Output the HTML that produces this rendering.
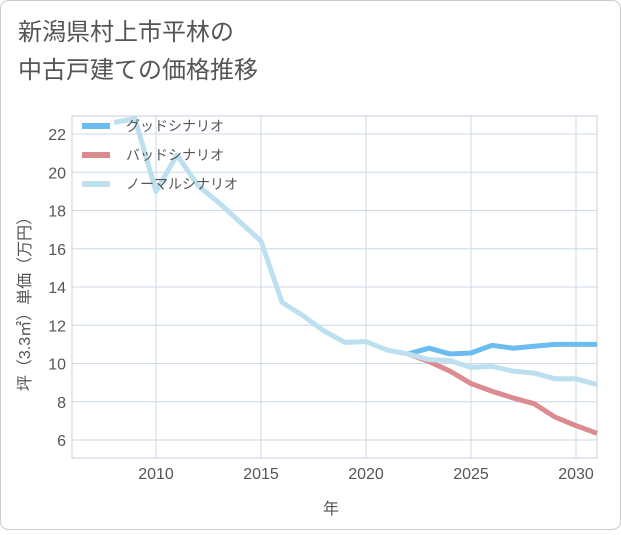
<!DOCTYPE html>
<html><head><meta charset="utf-8"><style>
body{margin:0;background:#fff;}
svg text{font-family:"Liberation Sans","Noto Sans CJK JP",sans-serif;}
</style></head><body>
<svg width="621" height="530" viewBox="0 0 621 530">
<rect x="0.5" y="0.5" width="620" height="529" rx="8" fill="#fff" stroke="#ccc"/>
<text x="18" y="40" font-size="24" fill="#555">新潟県村上市平林の</text>
<text x="18" y="78" font-size="24" fill="#555">中古戸建ての価格推移</text>
<g id="grid"></g>
<g id="series"></g>
<g id="legend"></g>
<text x="331" y="514" font-size="16" fill="#555" text-anchor="middle">年</text>
<text transform="translate(30,300) rotate(-90)" font-size="16" fill="#555" text-anchor="middle">坪（3.3㎡）単価（万円）</text>
</svg>
<script>
const xTicks=[2010,2015,2020,2025,2030];
const yTicks=[6,8,10,12,14,16,18,20,22];
const normalYears=[2008,2009,2010,2011,2012,2013,2014,2015,2016,2017,2018,2019,2020,2021,2022,2023,2024,2025,2026,2027,2028,2029,2030,2031];
const normalVals=[22.6,22.8,19.0,20.9,19.3,18.4,17.4,16.4,13.2,12.5,11.7,11.1,11.15,10.7,10.5,10.2,10.15,9.8,9.85,9.6,9.5,9.2,9.2,8.9];
const futureYears=[2022,2023,2024,2025,2026,2027,2028,2029,2030,2031];
const goodVals=[10.5,10.8,10.5,10.55,10.95,10.8,10.9,11.0,11.0,11.0];
const badVals=[10.5,10.1,9.6,8.95,8.55,8.2,7.9,7.2,6.75,6.35];
const X0=72,X1=597,Y0=116,Y1=458;
const xs=y=>X0+(y-2006)*(X1-X0)/25;
const ys=v=>440-(v-6)*(440-134)/16;
const NS="http://www.w3.org/2000/svg";
function mk(tag,attrs,parent){const e=document.createElementNS(NS,tag);for(const k in attrs)e.setAttribute(k,attrs[k]);parent.appendChild(e);return e;}
const g=document.getElementById('grid');
const r=mk('rect',{x:X0,y:Y0,width:X1-X0,height:Y1-Y0,fill:'none',stroke:'#ccd'},g);


xTicks.forEach(t=>{
 const l=mk('line',{x1:xs(t),x2:xs(t),y1:Y0,y2:Y1,stroke:'#ccd8e4'},g);
 
 
 const tx=mk('text',{x:xs(t),y:479,'font-size':16,fill:'#555','text-anchor':'middle'},g);tx.textContent=t;
 
 
});
yTicks.forEach(t=>{
 const l=mk('line',{x1:X0,x2:X1,y1:ys(t),y2:ys(t),stroke:'#ccd8e4'},g);
 
 
 const tx=mk('text',{x:66,y:ys(t)+6,'font-size':16,fill:'#555','text-anchor':'end'},g);tx.textContent=t;
 
 
});
const s=document.getElementById('series');
function line(years,vals,color,name){
 const p=mk('polyline',{points:years.map((y,i)=>xs(y)+','+ys(vals[i])).join(' '),fill:'none',stroke:color,'stroke-width':5,'stroke-linejoin':'round'},s);
 
 
}
line(futureYears,goodVals,'#6bbcf0','good-scenario-line');
line(futureYears,badVals,'#dc8c90','bad-scenario-line');
line(normalYears,normalVals,'#bde0f0','normal-scenario-line');
const lg=document.getElementById('legend');
[['グッドシナリオ','#6bbcf0'],['バッドシナリオ','#dc8c90'],['ノーマルシナリオ','#bde0f0']].forEach((d,i)=>{
 const y=126+i*29;
 const l=mk('line',{x1:82,x2:110,y1:y,y2:y,stroke:d[1],'stroke-width':6},lg);
 
 
 const t=mk('text',{x:126,y:y+5,'font-size':14,fill:'#555'},lg);t.textContent=d[0];
 
 
});
</script>
</body></html>
